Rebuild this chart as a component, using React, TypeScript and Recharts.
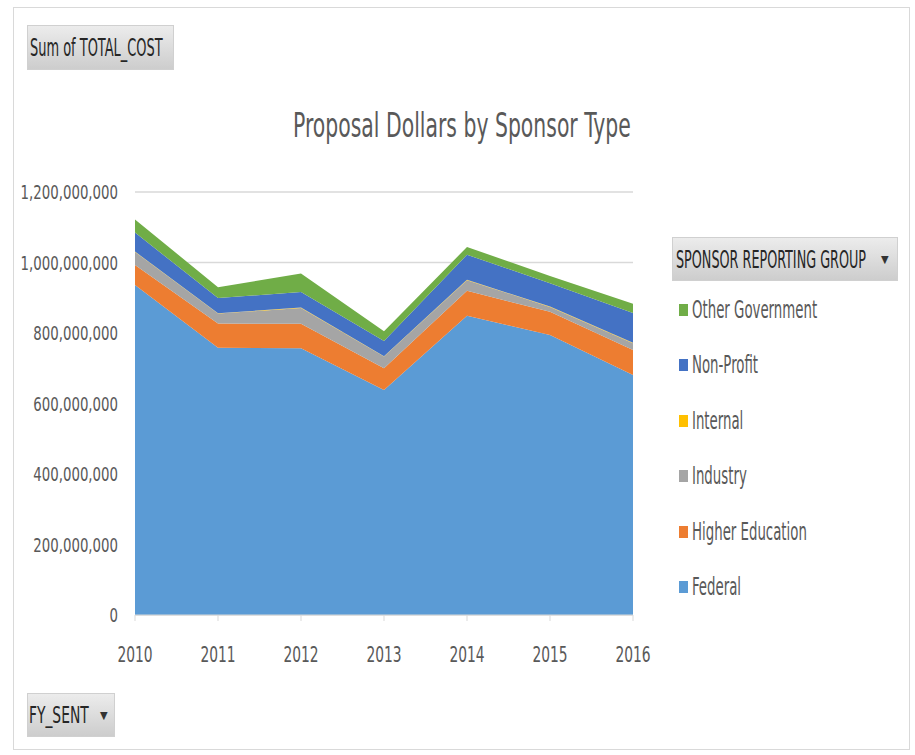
import React from "react";
import { Area, AreaChart, CartesianGrid, XAxis, YAxis } from "recharts";

const FONT = '"DejaVu Sans Condensed", "DejaVu Sans", sans-serif';
const TEXT = "#595959";

// values in millions of dollars
const years = ["2010", "2011", "2012", "2013", "2014", "2015", "2016"];
const federal = [936, 758, 757, 638, 849, 794, 681];
const higherEducation = [57, 69, 69, 62, 71, 66, 71];
const industry = [37, 28, 45, 33, 30, 14, 19];
const internal = [1, 1, 1, 1, 1, 1, 1];
const nonProfit = [54, 43, 44, 43, 71, 66, 85];
const otherGovernment = [37, 31, 53, 28, 22, 21, 26];
const yTicks = [0, 200000000, 400000000, 600000000, 800000000, 1000000000, 1200000000];

// bottom to top stacking order
const series = [
  { key: "federal", name: "Federal", color: "#5B9BD5", values: federal },
  { key: "higherEducation", name: "Higher Education", color: "#ED7D31", values: higherEducation },
  { key: "industry", name: "Industry", color: "#A5A5A5", values: industry },
  { key: "internal", name: "Internal", color: "#FFC000", values: internal },
  { key: "nonProfit", name: "Non-Profit", color: "#4472C4", values: nonProfit },
  { key: "otherGovernment", name: "Other Government", color: "#70AD47", values: otherGovernment },
];

const data = years.map((year, i) => {
  const row: Record<string, any> = { year };
  series.forEach((s) => {
    row[s.key] = s.values[i] * 1000000;
  });
  return row;
});

// the screenshot's text is horizontally condensed
const Squeeze: React.FC<{ s: number; children: React.ReactNode }> = ({ s, children }) => (
  <span
    style={{
      display: "inline-block",
      transform: `scaleX(${s})`,
      transformOrigin: "left center",
      whiteSpace: "nowrap",
    }}
  >
    {children}
  </span>
);

const YTick = (props: any) => {
  const { x, y, payload } = props;
  return (
    <text
      transform={`translate(${x},${y}) scale(0.78,1)`}
      y={7}
      textAnchor="end"
      fill={TEXT}
      fontSize={19}
      fontFamily={FONT}
    >
      {Number(payload.value).toLocaleString("en-US")}
    </text>
  );
};

const XTick = (props: any) => {
  const { x, y, payload } = props;
  return (
    <text
      transform={`translate(${x},${y}) scale(0.7,1)`}
      y={16}
      textAnchor="middle"
      fill={TEXT}
      fontSize={22}
      fontFamily={FONT}
    >
      {payload.value}
    </text>
  );
};

const buttonStyle: React.CSSProperties = {
  position: "absolute",
  background: "linear-gradient(#ececec, #cdcdcd)",
  border: "1px solid #d0d0d0",
  boxSizing: "border-box",
  display: "flex",
  alignItems: "center",
  fontFamily: FONT,
  color: "#262626",
  overflow: "hidden",
};

export default function App() {
  const legendItems = [...series].reverse();
  return (
    <div style={{ position: "absolute", left: 0, top: 0, width: 915, height: 755, background: "#fff" }}>
      <div
        style={{
          position: "absolute",
          left: 13,
          top: 7,
          width: 897,
          height: 743,
          border: "1px solid #d9d9d9",
          boxSizing: "border-box",
        }}
      />
      <AreaChart
        width={915}
        height={755}
        data={data}
        margin={{ top: 192, right: 282, left: 15, bottom: 110 }}
        style={{ position: "absolute", left: 0, top: 0 }}
      >
        <CartesianGrid vertical={false} stroke="#d9d9d9" strokeWidth={1.5} />
        <XAxis
          dataKey="year"
          axisLine={{ stroke: "#d9d9d9" }}
          tickLine={{ stroke: "#d9d9d9" }}
          tickSize={6}
          tickMargin={25}
          height={30}
          tick={<XTick />}
          interval={0}
        />
        <YAxis
          domain={[0, 1200000000]}
          ticks={yTicks}
          width={120}
          axisLine={false}
          tickLine={false}
          tickSize={0}
          tickMargin={17}
          tick={<YTick />}
        />
        {series.map((s) => (
          <Area
            key={s.key}
            type="linear"
            dataKey={s.key}
            name={s.name}
            stackId="1"
            stroke="none"
            fill={s.color}
            fillOpacity={1}
            dot={false}
            activeDot={false}
            isAnimationActive={false}
          />
        ))}
      </AreaChart>

      <div style={{ ...buttonStyle, left: 27, top: 25, width: 147, height: 45, paddingLeft: 2 }}>
        <span style={{ fontSize: 24 }}>
          <Squeeze s={0.6}>Sum of TOTAL_COST</Squeeze>
        </span>
      </div>

      <div
        style={{
          position: "absolute",
          left: 293,
          top: 109,
          fontFamily: FONT,
          fontSize: 33,
          lineHeight: "33px",
          color: TEXT,
        }}
      >
        <Squeeze s={0.687}>Proposal Dollars by Sponsor Type</Squeeze>
      </div>

      <div style={{ ...buttonStyle, left: 672, top: 237, width: 226, height: 44, paddingLeft: 3 }}>
        <span style={{ fontSize: 25 }}>
          <Squeeze s={0.568}>SPONSOR REPORTING GROUP</Squeeze>
        </span>
        <span style={{ position: "absolute", left: 208, fontSize: 11, color: "#333" }}>▼</span>
      </div>

      <div style={{ position: "absolute", left: 679, top: 282, fontFamily: FONT, color: TEXT }}>
        {legendItems.map((s) => (
          <div key={s.key} style={{ height: 55.5, display: "flex", alignItems: "center" }}>
            <span style={{ width: 9, height: 12, background: s.color, marginRight: 4 }} />
            <span style={{ fontSize: 24, lineHeight: "24px" }}>
              <Squeeze s={0.617}>{s.name}</Squeeze>
            </span>
          </div>
        ))}
      </div>

      <div style={{ ...buttonStyle, left: 27, top: 693, width: 88, height: 44, paddingLeft: 1 }}>
        <span style={{ fontSize: 23 }}>
          <Squeeze s={0.67}>FY_SENT</Squeeze>
        </span>
        <span style={{ position: "absolute", left: 72, fontSize: 11, color: "#333" }}>▼</span>
      </div>
    </div>
  );
}
